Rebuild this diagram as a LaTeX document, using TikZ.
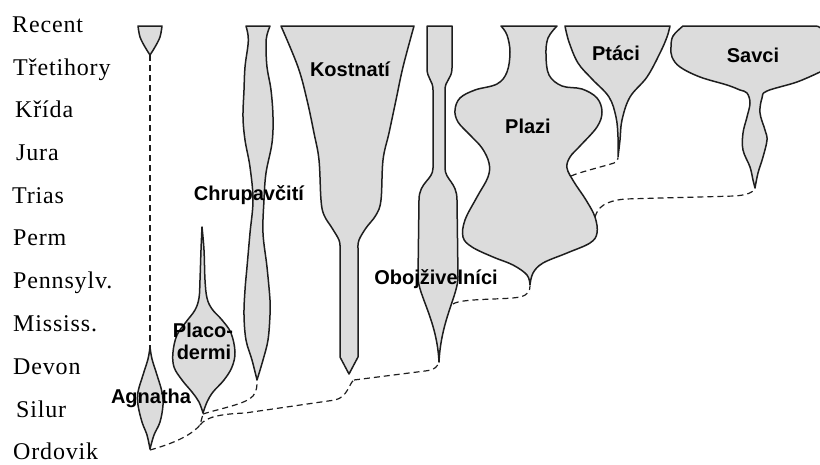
\documentclass[tikz,border=0pt]{standalone}
\usepackage{fontspec}
\setmainfont{Liberation Serif}
\newfontfamily\erafamily[LetterSpace=3.5]{Liberation Serif}
\newfontfamily\sansfam{Liberation Sans}
\newcommand\erafont{\erafamily\fontsize{24}{26}\selectfont}
\newcommand\labfont{\sansfam\bfseries\fontsize{20}{22}\selectfont}
\definecolor{fillc}{RGB}{220,220,220}
\definecolor{linec}{RGB}{30,30,30}
\tikzset{
  taxon/.style={draw=linec, fill=fillc, line width=1.5pt, line join=round},
  conn/.style={draw=linec, line width=1.2pt, dash pattern=on 6pt off 4pt},
  thickdash/.style={draw=linec, line width=2pt, dash pattern=on 6pt off 4pt},
  era/.style={anchor=base west, inner sep=0pt, font=\erafont},
  tlab/.style={anchor=base, inner sep=0pt, font=\labfont},
}
\begin{document}
\begin{tikzpicture}[x=1pt,y=-1pt]
\useasboundingbox (0,0) rectangle (820,464);
% era labels
\node[era] (e1) at (12,32) {Recent};
\node[era] (e2) at (13,75) {Třetihory};
\node[era] (e3) at (15,117) {Křída};
\node[era] (e4) at (16,160) {Jura};
\node[era] (e5) at (12,203) {Trias};
\node[era] (e6) at (13,245) {Perm};
\node[era] (e7) at (13,288) {Pennsylv.};
\node[era] (e8) at (13,331) {Mississ.};
\node[era] (e9) at (13,374) {Devon};
\node[era] (e10) at (16,417) {Silur};
\node[era] (e11) at (13,459) {Ordovik};

% Agnatha (top)
\draw[taxon] (138,26) -- plot[smooth,tension=0.6] coordinates {(162,26) (160,37) (155,47) (150,55)}
  -- plot[smooth,tension=0.6] coordinates {(150,55) (145,47) (140,37) (138,26)} -- cycle;
% Agnatha (lower)
\draw[taxon] plot[smooth,tension=0.6] coordinates {(150,347) (152,359) (157,375) (162,392) (163,405) (160,422) (154,435) (150,449)}
  -- plot[smooth,tension=0.6] coordinates {(150,449) (147,435) (142,422) (138,405) (138,392) (143,375) (148,359) (150,347)} -- cycle;
% Placodermi
\draw[taxon] plot[smooth,tension=0.6] coordinates {(202,227) (204,250) (205,280) (207,298) (212,309) (222,320) (231,333) (235,352) (232,367) (224,380) (213,392) (207,402) (203,413)}
  -- plot[smooth,tension=0.6] coordinates {(203,413) (199,402) (192,392) (182,380) (174,367) (173,352) (177,335) (186,322) (195,310) (199,298) (200,280) (201,250) (202,227)} -- cycle;
% Chrupavciti
\draw[taxon] (246,26) -- plot[smooth,tension=0.6] coordinates {(270,26) (267,35) (266,45) (267,67) (271,90) (273,117) (272,143) (266,173) (264,200) (263,233) (267,267) (270,300) (270,315) (268,340) (263,360) (257,380)}
  -- plot[smooth,tension=0.6] coordinates {(257,380) (252,360) (246,340) (244,315) (245,290) (247,267) (250,233) (253,200) (250,167) (245,140) (243,117) (244,90) (245,67) (248,45) (248,35) (246,26)} -- cycle;
% Kostnati
\draw[taxon] (281,26) -- plot[smooth,tension=0.6] coordinates {(414,26) (403,67) (396,100) (389,133) (383,160) (381,200) (376,215) (366,228) (359,240) (358,248)}
  -- (358,357) -- (349,374) -- (340,357)
  -- plot[smooth,tension=0.6] coordinates {(340,248) (339,240) (332,228) (324,215) (321,200) (319,160) (314,133) (307,100) (298,67) (281,26)} -- cycle;
% Obojzivelnici
\draw[taxon] (427,26) -- (452,26) -- (452,68) .. controls (452,79) and (445,80) .. (445,90)
  -- (445,168) .. controls (445,180) and (457,182) .. (457,200)
  -- (458,277) .. controls (458,295) and (441,320) .. (439,362)
  .. controls (437,320) and (418,295) .. (418,277)
  -- (419,200) .. controls (419,182) and (433,180) .. (433,168)
  -- (433,90) .. controls (433,80) and (427,79) .. (427,68) -- cycle;
% Plazi
\draw[taxon] (501,26) -- plot[smooth,tension=0.6] coordinates {(557,26) (548,38) (546,55) (549,75) (562,86) (582,89) (597,98) (602,112) (597,127) (580,146) (570,157) (567,168) (574,182) (586,200) (595,217) (597,233) (590,243) (567,253) (543,263) (533,273) (530,285)}
  -- plot[smooth,tension=0.6] coordinates {(530,285) (527,275) (513,265) (493,257) (472,247) (463,237) (465,220) (477,197) (488,177) (489,163) (482,148) (470,135) (458,122) (455,110) (460,98) (475,90) (497,84) (507,72) (510,52) (507,35) (501,26)} -- cycle;
% Ptaci
\draw[taxon] (565,26) -- plot[smooth,tension=0.6] coordinates {(670,26) (667,37) (660,53) (647,77) (630,97) (622,120) (620,140) (618,157)}
  -- plot[smooth,tension=0.6] coordinates {(618,157) (618,137) (616,117) (609,97) (592,79) (578,63) (569,42) (565,26)} -- cycle;
% Savci
\draw[taxon] (683,26) -- (816,26) .. controls (819,26) and (822,29) .. (826,33) -- (826,70)
  -- plot[smooth,tension=0.6] coordinates {(820,72) (797,82) (767,91) (762,98) (760,113) (765,130) (767,140) (763,157) (758,173) (755,188)}
  -- plot[smooth,tension=0.6] coordinates {(755,188) (753,180) (750,167) (743,150) (743,133) (747,117) (750,103) (747,93) (740,90) (727,85) (700,77) (680,67) (672,57) (671,47) (673,36) (683,26)} -- cycle;

% connection points
\coordinate (agTb) at (150,55);
\coordinate (agLt) at (150,347);
\coordinate (agLb) at (150,450);
\coordinate (pcB) at (203,414);
\coordinate (br) at (200,425);
\coordinate (chB) at (257,381);
\coordinate (ksJ) at (354,380);
\coordinate (obB) at (439,362);
\coordinate (obR) at (453,304);
\coordinate (plB) at (530,286);
\coordinate (plR1) at (571,176);
\coordinate (plR2) at (595,217);
\coordinate (ptB) at (618,158);
\coordinate (svB) at (755,189);

% connectors
\draw[thickdash] (agTb) -- (agLt);
\draw[conn] (agLb) .. controls (168,445) and (190,437) .. (br) -- (pcB);
\draw[conn] (pcB) .. controls (222,408) and (246,404) .. (253,396) .. controls (257,391) and (257,386) .. (chB);
\draw[conn] (br) .. controls (206,417) and (220,414) .. (245,413) -- (335,400) .. controls (348,397) and (349,383) .. (ksJ);
\draw[conn] (ksJ) -- (425,371) .. controls (435,370) and (438,366) .. (obB);
\draw[conn] (obR) .. controls (462,298) and (505,300) .. (520,297) .. controls (528,295) and (530,291) .. (plB);
\draw[conn] (plR1) .. controls (580,172) and (605,166) .. (614,163) .. controls (617,162) and (618,160) .. (ptB);
\draw[conn] (plR2) .. controls (598,207) and (605,201) .. (625,199) -- (735,196) .. controls (748,195) and (753,192) .. (svB);

% taxon labels
\node[tlab] (lag) at (151,403) {Agnatha};
\node[tlab] (lpc1) at (203,337) {Placo-};
\node[tlab] (lpc2) at (204,359) {dermi};
\node[tlab] (lch) at (249,200) {Chrupavčití};
\node[tlab] (lks) at (350,76) {Kostnatí};
\node[tlab] (lob) at (436,284) {Obojživelníci};
\node[tlab] (lpl) at (528,133) {Plazi};
\node[tlab] (lpt) at (616,60) {Ptáci};
\node[tlab] (lsv) at (753,62) {Savci};
\end{tikzpicture}
\end{document}
